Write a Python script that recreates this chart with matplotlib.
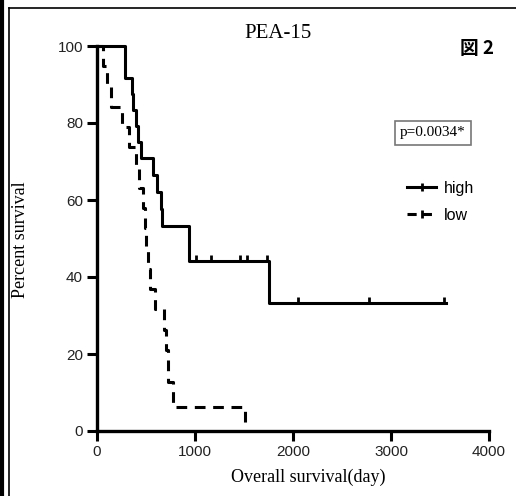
import matplotlib.pyplot as plt
from matplotlib.lines import Line2D

# high group (solid) step points: day, percent survival
high_days = [0, 290, 355, 370, 395, 420, 450, 575, 610, 650, 665, 935, 1750, 3560]
high_surv = [100, 91.7, 87.5, 83.3, 79.2, 75.0, 70.8, 66.4, 62.0, 57.6, 53.2, 44.2, 33.2, 33.2]
high_cens_days = [1010, 1160, 1460, 1530, 1730, 2050, 2780, 3540]
high_cens_surv = [44.2, 44.2, 44.2, 44.2, 44.2, 33.2, 33.2, 33.2]

# low group (dashed)
low_days = [0, 60, 100, 140, 255, 330, 400, 425, 470, 490, 505, 520, 540, 590, 680, 700, 720, 780, 1510]
low_surv = [100, 94.7, 89.5, 84.2, 78.9, 73.7, 68.4, 63.2, 57.9, 52.6, 47.4, 42.1, 36.8, 31.6, 26.3, 21.1, 12.6, 6.3, 0]

x_ticks = [0, 1000, 2000, 3000, 4000]
y_ticks = [0, 20, 40, 60, 80, 100]

plt.rcParams['font.family'] = ['Liberation Sans', 'DejaVu Sans']
serif = 'Liberation Serif'

fig = plt.figure(figsize=(5.16, 4.96), dpi=100)
ax = fig.add_axes([97 / 516, 1 - 431 / 496, 392 / 516, 385 / 496])

ax.step(high_days, high_surv, where='post', color='black', lw=2.2, clip_on=False)
ax.plot(high_cens_days, [v + 0.8 for v in high_cens_surv], ls='none', marker='|',
        color='black', ms=5, mew=2, clip_on=False)
ax.step(low_days, low_surv, where='post', color='black', lw=2.2, ls=(0, (3.5, 2.5)),
        clip_on=False)

ax.set_xlim(0, 4000)
ax.set_ylim(0, 100)
ax.set_xticks(x_ticks)
ax.set_yticks(y_ticks)
for s in ['top', 'right']:
    ax.spines[s].set_visible(False)
for s in ['left', 'bottom']:
    ax.spines[s].set_linewidth(2.4)
ax.tick_params(direction='out', length=7, width=2.2, labelsize=11, pad=3, colors='#222222')
ax.tick_params(color='black')

ax.set_xlabel('Overall survival(day)', family=serif, fontsize=13)
ax.xaxis.set_label_coords((308 - 97) / 392, -(477 - 431) / 385)
ax.set_ylabel('Percent survival', family=serif, fontsize=13)
ax.yaxis.set_label_coords(-(97 - 21) / 392, (431 - 240) / 385)
ax.xaxis.label.set_va('center')
ax.yaxis.label.set_va('center')

fig.text(278 / 516, 1 - 34 / 496, 'PEA-15', family=serif, fontsize=15,
         ha='center', va='center')

handles = [Line2D([], [], color='black', lw=2.2, marker='|', ms=6, mew=2),
           Line2D([], [], color='black', lw=2.2, ls=(0, (3, 2)), marker='|', ms=6, mew=2)]
fig.legend(handles, ['high', 'low'], loc='center left', frameon=False,
           bbox_to_anchor=(393 / 516, 1 - 202 / 496), fontsize=11.5,
           handlelength=1.8, handletextpad=0.5, labelspacing=0.75)

fig.text(433 / 516, 1 - 133 / 496, 'p=0.0034*', family=serif, fontsize=11,
         ha='center', va='center',
         bbox=dict(boxstyle='square,pad=0.35', fc='white', ec='#777777', lw=1.2))
fig.text(477 / 516, 1 - 49 / 496, '図 2', family=['Noto Sans CJK JP', 'DejaVu Sans'],
         fontsize=13.5, fontweight='bold', ha='center', va='center')

# outer frame of the original picture
fig.add_artist(Line2D([9 / 516, 1], [1 - 8 / 496] * 2, color='black', lw=1.2))
fig.add_artist(Line2D([9 / 516] * 2, [0, 1 - 8 / 496], color='black', lw=1.2))
fig.add_artist(Line2D([2 / 516] * 2, [0, 1], color='black', lw=3))

fig.savefig('out.png', dpi=100)
